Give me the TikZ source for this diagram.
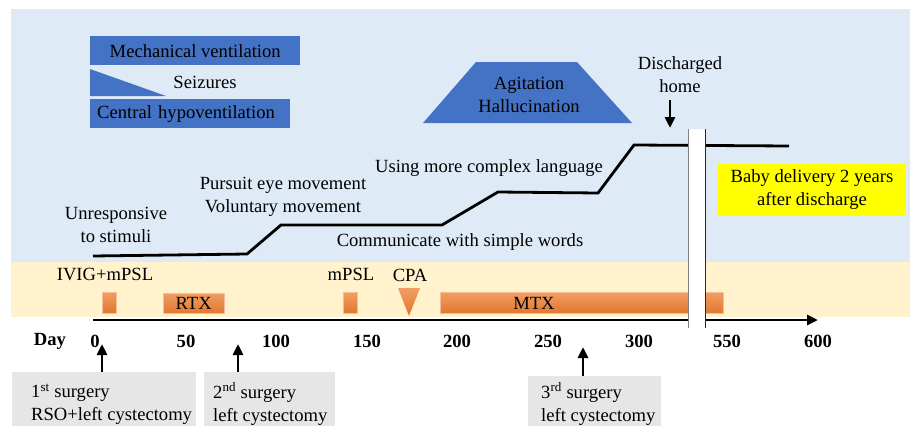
\documentclass[tikz,border=0pt]{standalone}
\usepackage{fontspec}
\setmainfont{Liberation Serif}
\usepackage{tikz}
\usetikzlibrary{arrows.meta, positioning, calc}

\definecolor{bgblue}{HTML}{DEEBF7}
\definecolor{bgbeige}{HTML}{FFF2CC}
\definecolor{sxblue}{HTML}{4472C4}
\definecolor{rxorange}{HTML}{ED7D31}
\definecolor{surggray}{HTML}{E7E6E6}
\definecolor{babyyellow}{HTML}{FFFF00}

\begin{document}
\begin{tikzpicture}[
  x=1pt, y=-1pt,
  txt/.style={font=\fontsize{18.6}{23}\selectfont, inner sep=0pt, align=center},
  daylbl/.style={txt, font=\fontsize{18.6}{23}\selectfont\bfseries},
  sxbox/.style={txt, fill=sxblue, anchor=north west, minimum height=29},
  rxbar/.style={txt, top color=rxorange!75!white, bottom color=rxorange!95!black,
                draw=rxorange!50!white, line width=0.5, anchor=north west},
  surgbox/.style={fill=surggray, anchor=north west, inner sep=0pt},
  babybox/.style={txt, fill=babyyellow, minimum width=188, minimum height=52},
  arrow/.style={-{Triangle[width=10pt, length=11pt]}, line width=2.8},
  prog/.style={line width=2.8, line join=miter},
]
\useasboundingbox (0,0) rectangle (911,426);

% background bands
\fill[bgblue]  (11,9)   rectangle (910,262);
\fill[bgbeige] (11,262) rectangle (910,317);

% symptoms
\node[sxbox, minimum width=210] (mv) at (90,36) {Mechanical ventilation};
\fill[sxblue] (90,69) -- (90,96) -- (166,96) -- cycle;
\node[txt] (sz) at (205,82) {Seizures};
\node[sxbox, minimum width=200, text width=186, align=left, inner xsep=7] (ch)
      at (90,99) {Central hypoventilation};
\fill[sxblue] (423,123) -- (476,62) -- (577,62) -- (632,123) -- cycle;
\node[txt] (agit) at (529,95) {Agitation\\Hallucination};

% course of recovery
\draw[prog] (93,256) -- (247,254) -- (281,225) -- (442,225) -- (498,192)
  -- (598,193) -- (634,145) -- (789,146);
\node[txt] (unr)  at (116,225) {Unresponsive\\to stimuli};
\node[txt] (purs) at (283,197) {Pursuit eye movement\\Voluntary movement};
\node[txt] (comm) at (460,242) {Communicate with simple words};
\node[txt] (lang) at (489,168) {Using more complex language};
\node[txt] (dh)   at (680,75)  {Discharged\\home};
\coordinate (t4) at (670,128);
\draw[arrow] (t4 |- 0,100) -- (t4);
\node[babybox] (baby) at (812,190) {Baby delivery 2 years\\after discharge};

% treatments
\node[txt] (ivigl) at (105,274) {IVIG+mPSL};
\node[txt] (mpsll) at (351,274) {mPSL};
\node[txt] (cpal)  at (410,275) {CPA};
\node[rxbar, minimum width=14, minimum height=21] (ivig) at (102,292) {};
\node[rxbar, minimum width=61, minimum height=20] (rtx)  at (163,293) {RTX};
\node[rxbar, minimum width=14, minimum height=21] (mpsl) at (343,292) {};
\shade[top color=rxorange!75!white, bottom color=rxorange!95!black]
  (398,288) -- (420,288) -- (409,316) -- cycle;
\node[rxbar, minimum width=283, minimum height=21] (mtx)  at (440,292) {};
\node[txt] (mtxl) at (534,303) {MTX};

% time axis
\coordinate (ax0) at (93,320);
\coordinate (ax1) at (818,320);
\draw[arrow] (ax0) -- (ax1);
\node[daylbl] (day) at (50,341) {Day};
\foreach \d/\x in {0/95,50/186,100/276,150/367,200/457,250/548,300/639,550/727,600/818}
  \node[daylbl] (d\d) at (\x,341) {\d};

% axis break
\fill[white] (688,129) rectangle (705,328);
\draw[black!50, line width=1] (688,129) -- (688,328);
\draw[black!85, line width=1] (705,129) -- (705,328);

% surgeries
\node[surgbox, minimum width=184, minimum height=54] (s1) at (12,372) {};
\node[surgbox, minimum width=131, minimum height=54] (s2) at (204,372) {};
\node[surgbox, minimum width=133, minimum height=50] (s3) at (528,376) {};
\node[txt, align=left, anchor=west] (s1t) at (31,404)
  {1\textsuperscript{st} surgery\\RSO+left cystectomy};
\node[txt, align=left, anchor=west] (s2t) at (213,404)
  {2\textsuperscript{nd} surgery\\left cystectomy};
\node[txt, align=left, anchor=west] (s3t) at (541,404)
  {3\textsuperscript{rd} surgery\\left cystectomy};
\coordinate (t1) at (102,344);
\coordinate (t2) at (238,344);
\coordinate (t3) at (583,347);
\draw[arrow] (t1 |- s1.north) -- (t1);
\draw[arrow] (t2 |- s2.north) -- (t2);
\draw[arrow] (t3 |- s3.north) -- (t3);
\end{tikzpicture}
\end{document}
